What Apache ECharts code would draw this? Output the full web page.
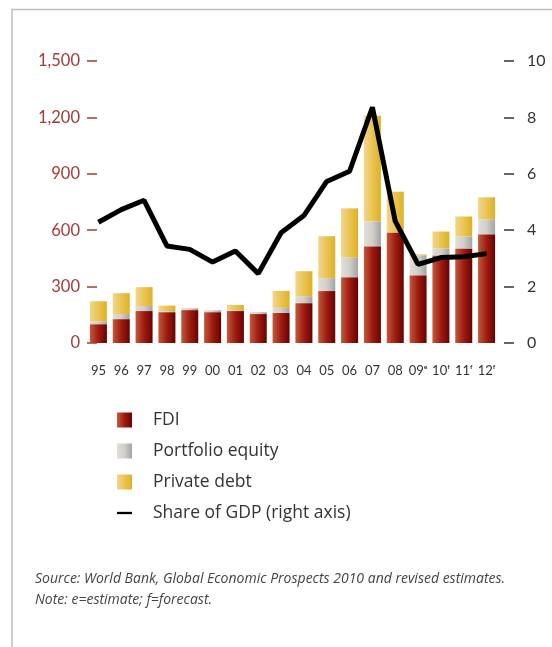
<!DOCTYPE html>
<html>
<head>
<meta charset="utf-8">
<script src="https://cdn.jsdelivr.net/npm/echarts@6/dist/echarts.min.js"></script>
<style>
  html, body { margin: 0; padding: 0; background: #fff; }
  #chart { width: 552px; height: 647px; }
</style>
</head>
<body>
<div id="chart"></div>
<script>
  // years, e = estimate, f = forecast
  var categories = ['95', '96', '97', '98', '99', '00', '01', '02', '03', '04', '05', '06', '07', '08', '09ᵉ', '10ᶠ', '11ᶠ', '12ᶠ']
  // $ billion
  var fdi = [100, 127, 170, 164, 175, 164, 170, 154, 160, 212, 276, 350, 514, 588, 360, 466, 503, 578]
  var portfolioEquity = [16, 27, 27, 5, 10, 10, 5, 10, 27, 37, 69, 106, 133, -53, 106, 37, 64, 80]
  var privateDebt = [106, 111, 100, 30, 0, -5, 27, -10, 90, 133, 223, 260, 562, 217, 5, 90, 106, 117]
  // % of GDP, right axis
  var gdpShare = [4.28, 4.73, 5.06, 3.44, 3.32, 2.87, 3.26, 2.46, 3.91, 4.52, 5.73, 6.09, 8.36, 4.32, 2.79, 3.03, 3.06, 3.17]
  var leftTicks = [0, 300, 600, 900, 1200, 1500]
  var rightTicks = [0, 2, 4, 6, 8, 10]

  function grad(c1, c2, c3) {
    return {
      type: 'linear', x: 0, y: 0, x2: 1, y2: 0,
      colorStops: [
        { offset: 0, color: c1 },
        { offset: 0.5, color: c2 },
        { offset: 1, color: c3 }
      ]
    }
  }

  var fontFam = 'Lato, "Open Sans", sans-serif'
  var wideFam = '"Open Sans", Lato, sans-serif'
  var chart = echarts.init(document.getElementById('chart'), null, { renderer: 'canvas' })

  chart.setOption({
    animation: false,
    backgroundColor: '#fff',
    textStyle: { fontFamily: fontFam },
    grid: {
      left: 87,
      right: 54,
      top: 61,
      bottom: 304,
      containLabel: false
    },
    legend: {
      orient: 'vertical',
      left: 117,
      top: 411,
      padding: 0,
      itemWidth: 15,
      itemHeight: 15,
      itemGap: 13,
      icon: 'rect',
      textStyle: { color: '#333', fontSize: 17.5, fontFamily: wideFam, padding: [0, 0, 0, 16] },
      data: [
        { name: 'FDI' },
        { name: 'Portfolio equity' },
        { name: 'Private debt' },
        { name: 'Share of GDP (right axis)', icon: 'path://M0,0 L13,0 L13,2 L0,2 Z', itemStyle: { color: '#000' } }
      ]
    },
    xAxis: {
      type: 'category',
      data: categories,
      axisLine: { show: false },
      axisTick: { show: false },
      axisLabel: { color: '#333', fontSize: 13, margin: 21, interval: 0 }
    },
    yAxis: [{
      type: 'value',
      min: leftTicks[0],
      max: leftTicks[leftTicks.length - 1],
      interval: 300,
      position: 'left',
      axisLine: { show: false },
      axisTick: { show: true, inside: true, length: 10, lineStyle: { color: '#a33b3b', width: 1.5 } },
      axisLabel: {
        color: '#a33b3b',
        fontSize: 16.5,
        margin: 7,
        formatter: function (v) { return v.toLocaleString('en-US') }
      },
      splitLine: { show: false }
    }, {
      type: 'value',
      min: rightTicks[0],
      max: rightTicks[rightTicks.length - 1],
      interval: 2,
      position: 'right',
      offset: 6,
      axisLine: { show: false },
      axisTick: { show: true, length: 10, lineStyle: { color: '#333', width: 1.5 } },
      axisLabel: { color: '#333', fontSize: 16, margin: 23 },
      splitLine: { show: false }
    }],
    series: [{
      name: 'FDI',
      type: 'bar',
      stack: 'flows',
      barWidth: 17,
      data: fdi,
      itemStyle: { color: grad('#c05a3c', '#9e1c10', '#6c0000') }
    }, {
      name: 'Portfolio equity',
      type: 'bar',
      stack: 'flows',
      barWidth: 17,
      data: portfolioEquity,
      itemStyle: { color: grad('#e2ded8', '#d2cfca', '#a3a3a3') }
    }, {
      name: 'Private debt',
      type: 'bar',
      stack: 'flows',
      barWidth: 17,
      data: privateDebt,
      itemStyle: { color: grad('#f1d68e', '#e9c455', '#e0b11e') }
    }, {
      name: 'Share of GDP (right axis)',
      type: 'line',
      yAxisIndex: 1,
      data: gdpShare,
      symbol: 'none',
      z: 5,
      lineStyle: { color: '#000', width: 5 },
      itemStyle: { color: '#000' }
    }],
    graphic: [{
      type: 'polyline',
      shape: { points: [[12, 647], [12, 9.5], [552, 9.5]] },
      style: { stroke: '#bdbdbd', lineWidth: 1.5, fill: null }
    }, {
      type: 'text',
      left: 35,
      top: 569,
      style: {
        text: 'Source: World Bank, Global Economic Prospects 2010 and revised estimates.\nNote: e=estimate; f=forecast.',
        font: 'italic 14px ' + wideFam,
        fill: '#444',
        lineHeight: 21
      }
    }]
  })
</script>
</body>
</html>
